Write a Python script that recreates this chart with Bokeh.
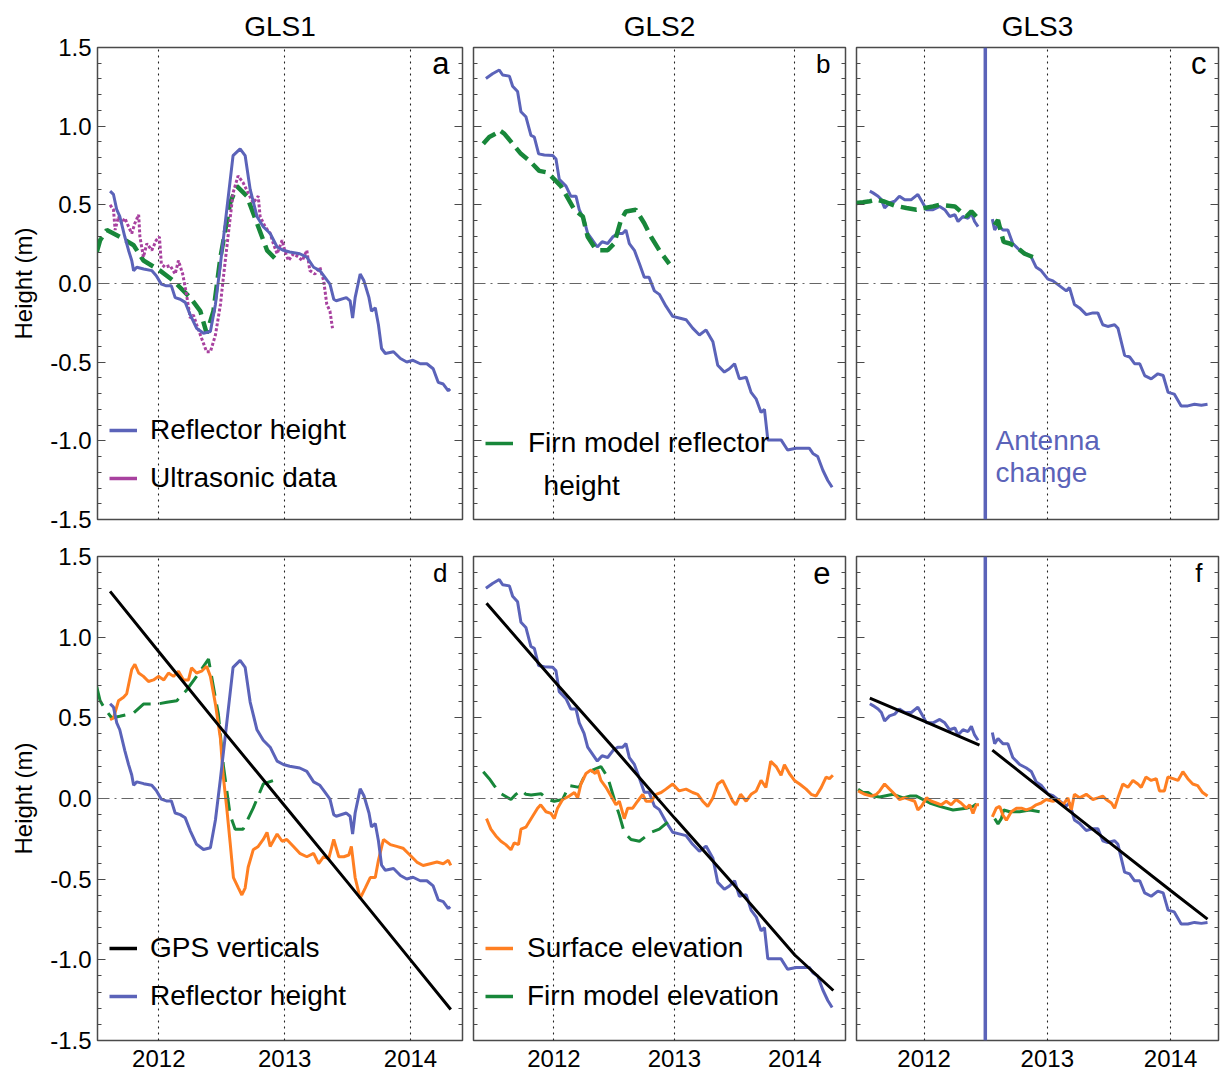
import math
from bokeh.plotting import figure
from bokeh.models import (Range1d, LinearAxis, SingleIntervalTicker, FixedTicker, Span, Label,
                          Legend, LegendItem, PrintfTickFormatter)
from bokeh.layouts import row, column
from bokeh.embed import file_html
from bokeh.resources import INLINE

NaN = float("nan")
FONT = "Liberation Sans"
BLUE = "#5b63b9"
MAGENTA = "#a8419f"
GREEN = "#18873a"
ORANGE = "#ff7f22"
BLACK = "#000000"

STATIONS = ["GLS1", "GLS2", "GLS3"]
PANEL_LETTERS = [["a", "b", "c"], ["d", "e", "f"]]
YEAR_TICKS = [2012, 2013, 2014]
ANTENNA_CHANGE = 2012.497

# ---------------- GLS1 ----------------
REFL_GLS1 = [(2011.613, 0.587), (2011.64, 0.566), (2011.666, 0.469), (2011.69, 0.426), (2011.73, 0.297),
             (2011.76, 0.21), (2011.785, 0.146), (2011.80, 0.082), (2011.825, 0.103), (2011.88, 0.092),
             (2011.944, 0.082), (2011.98, 0.049), (2012.02, -0.004), (2012.06, -0.015), (2012.10, -0.015),
             (2012.13, -0.09), (2012.17, -0.10), (2012.21, -0.12), (2012.25, -0.20), (2012.30, -0.284),
             (2012.355, -0.316), (2012.41, -0.305), (2012.45, -0.133), (2012.49, 0.125), (2012.54, 0.469),
             (2012.59, 0.813), (2012.646, 0.856), (2012.686, 0.813), (2012.726, 0.598), (2012.78, 0.426),
             (2012.83, 0.361), (2012.885, 0.318), (2012.94, 0.232), (2012.99, 0.211), (2013.04, 0.20),
             (2013.12, 0.189), (2013.176, 0.168), (2013.23, 0.103), (2013.28, 0.082), (2013.32, 0.039),
             (2013.36, -0.004), (2013.39, -0.10), (2013.41, -0.11), (2013.49, -0.09), (2013.52, -0.11),
             (2013.54, -0.22), (2013.56, -0.09), (2013.60, 0.06), (2013.63, 0.017), (2013.67, -0.09),
             (2013.69, -0.176), (2013.72, -0.155), (2013.745, -0.262), (2013.77, -0.413), (2013.80, -0.445),
             (2013.865, -0.434), (2013.92, -0.477), (2013.97, -0.499), (2014.02, -0.488), (2014.077, -0.51),
             (2014.13, -0.51), (2014.18, -0.542), (2014.22, -0.628), (2014.26, -0.639), (2014.30, -0.682),
             (2014.315, -0.67)]
ULTRA_GLS1 = [(2011.613, 0.50), (2011.64, 0.469), (2011.653, 0.34), (2011.68, 0.426), (2011.706, 0.383),
              (2011.73, 0.415), (2011.76, 0.361), (2011.785, 0.318), (2011.81, 0.383), (2011.84, 0.437),
              (2011.85, 0.297), (2011.878, 0.168), (2011.905, 0.254), (2011.944, 0.211), (2011.98, 0.275),
              (2012.005, 0.297), (2012.02, 0.125), (2012.05, 0.103), (2012.09, 0.114), (2012.13, 0.06),
              (2012.156, 0.146), (2012.19, 0.06), (2012.22, -0.069), (2012.25, -0.22), (2012.275, -0.20),
              (2012.30, -0.26), (2012.34, -0.348), (2012.38, -0.434), (2012.41, -0.434), (2012.45, -0.327),
              (2012.49, -0.133), (2012.51, 0.017), (2012.55, 0.297), (2012.59, 0.576), (2012.63, 0.684),
              (2012.67, 0.641), (2012.71, 0.576), (2012.75, 0.512), (2012.79, 0.555), (2012.805, 0.426),
              (2012.845, 0.361), (2012.885, 0.318), (2012.91, 0.254), (2012.94, 0.189), (2012.98, 0.275),
              (2013.00, 0.211), (2013.03, 0.146), (2013.07, 0.189), (2013.11, 0.168), (2013.14, 0.146),
              (2013.176, 0.211), (2013.20, 0.082), (2013.24, 0.06), (2013.28, 0.103), (2013.31, 0.017),
              (2013.335, -0.133), (2013.36, -0.176), (2013.38, -0.284)]
FIRN_REFL_GLS1 = [(2011.507, 0.20), (2011.534, 0.275), (2011.587, 0.34), (2011.64, 0.318), (2011.69, 0.297),
                  (2011.80, 0.243), (2011.878, 0.146), (2012.01, 0.082), (2012.117, 0.017), (2012.25, -0.09),
                  (2012.33, -0.176), (2012.38, -0.316), (2012.434, -0.176), (2012.49, 0.168), (2012.567, 0.512),
                  (2012.62, 0.619), (2012.70, 0.555), (2012.78, 0.383), (2012.86, 0.211), (2012.94, 0.146),
                  (2012.964, 0.135)]
GPS_GLS1 = [(2011.613, 1.284), (2012.0, 0.91), (2012.5, 0.43), (2013.0, -0.045), (2013.5, -0.52),
            (2014.0, -1.0), (2014.32, -1.308)]
SURF_GLS1 = [(2011.613, 0.488), (2011.64, 0.499), (2011.68, 0.606), (2011.72, 0.628), (2011.745, 0.649),
             (2011.785, 0.80), (2011.81, 0.832), (2011.84, 0.778), (2011.878, 0.757), (2011.918, 0.725),
             (2011.958, 0.735), (2011.997, 0.757), (2012.04, 0.735), (2012.077, 0.778), (2012.117, 0.757),
             (2012.156, 0.789), (2012.196, 0.735), (2012.236, 0.735), (2012.26, 0.81), (2012.30, 0.778),
             (2012.34, 0.789), (2012.38, 0.82), (2012.41, 0.757), (2012.45, 0.585), (2012.49, 0.37),
             (2012.51, 0.155), (2012.54, -0.06), (2012.567, -0.275), (2012.593, -0.49), (2012.633, -0.555),
             (2012.66, -0.598), (2012.686, -0.555), (2012.71, -0.426), (2012.75, -0.318), (2012.79, -0.297),
             (2012.83, -0.254), (2012.86, -0.21), (2012.885, -0.297), (2012.94, -0.22), (2012.98, -0.265),
             (2013.017, -0.254), (2013.07, -0.297), (2013.12, -0.34), (2013.176, -0.361), (2013.23, -0.34),
             (2013.27, -0.404), (2013.31, -0.361), (2013.35, -0.372), (2013.39, -0.254), (2013.43, -0.361),
             (2013.47, -0.361), (2013.51, -0.35), (2013.53, -0.297), (2013.56, -0.49), (2013.60, -0.619),
             (2013.64, -0.555), (2013.68, -0.49), (2013.72, -0.49), (2013.745, -0.383), (2013.785, -0.254),
             (2013.84, -0.286), (2013.89, -0.297), (2013.94, -0.308), (2013.995, -0.35), (2014.05, -0.394),
             (2014.10, -0.415), (2014.157, -0.404), (2014.21, -0.394), (2014.26, -0.404), (2014.30, -0.383),
             (2014.32, -0.415)]
FIRN_ELEV_GLS1 = [(2011.507, 0.692), (2011.534, 0.606), (2011.574, 0.553), (2011.627, 0.499), (2011.69, 0.51),
                  (2011.80, 0.53), (2011.878, 0.585), (2011.984, 0.585), (2012.064, 0.596), (2012.143, 0.606),
                  (2012.22, 0.671), (2012.30, 0.757), (2012.395, 0.864), (2012.434, 0.692), (2012.474, 0.52),
                  (2012.514, 0.198), (2012.567, -0.103), (2012.607, -0.19), (2012.67, -0.19), (2012.75, -0.06),
                  (2012.83, 0.09), (2012.91, 0.112)]

# ---------------- GLS2 ----------------
REFL_GLS2 = [(2011.435, 1.303), (2011.49, 1.333), (2011.546, 1.357), (2011.574, 1.325), (2011.63, 1.318),
             (2011.657, 1.254), (2011.698, 1.22), (2011.726, 1.092), (2011.767, 1.06), (2011.809, 0.942),
             (2011.837, 0.931), (2011.873, 0.824), (2011.92, 0.817), (2011.99, 0.813), (2012.017, 0.791),
             (2012.044, 0.662), (2012.10, 0.619), (2012.14, 0.555), (2012.183, 0.555), (2012.21, 0.469),
             (2012.25, 0.404), (2012.28, 0.318), (2012.32, 0.275), (2012.36, 0.232), (2012.40, 0.265),
             (2012.446, 0.254), (2012.49, 0.297), (2012.53, 0.318), (2012.57, 0.318), (2012.598, 0.34),
             (2012.626, 0.254), (2012.668, 0.211), (2012.71, 0.125), (2012.75, 0.039), (2012.79, 0.039),
             (2012.834, -0.047), (2012.875, -0.069), (2012.93, -0.144), (2012.986, -0.209), (2013.04, -0.219),
             (2013.097, -0.23), (2013.152, -0.284), (2013.208, -0.327), (2013.263, -0.295), (2013.32, -0.37),
             (2013.36, -0.52), (2013.415, -0.563), (2013.457, -0.542), (2013.50, -0.51), (2013.54, -0.606),
             (2013.596, -0.596), (2013.637, -0.692), (2013.68, -0.735), (2013.72, -0.82), (2013.748, -0.80),
             (2013.776, -0.994), (2013.83, -0.994), (2013.886, -0.994), (2013.94, -1.058), (2014.01, -1.047),
             (2014.066, -1.047), (2014.12, -1.047), (2014.15, -1.08), (2014.19, -1.10), (2014.233, -1.187),
             (2014.274, -1.252), (2014.31, -1.295)]
FIRN_REFL_GLS2 = [(2011.413, 0.888), (2011.463, 0.931), (2011.518, 0.953), (2011.546, 0.974), (2011.587, 0.953),
                  (2011.657, 0.888), (2011.726, 0.824), (2011.795, 0.781), (2011.878, 0.716), (2011.947, 0.705),
                  (2012.003, 0.662), (2012.058, 0.619), (2012.114, 0.544), (2012.17, 0.469), (2012.24, 0.426),
                  (2012.28, 0.297), (2012.335, 0.232), (2012.377, 0.211), (2012.446, 0.211), (2012.50, 0.254),
                  (2012.557, 0.404), (2012.598, 0.458), (2012.68, 0.469), (2012.75, 0.383), (2012.806, 0.297),
                  (2012.875, 0.211), (2012.958, 0.125)]
GPS_GLS2 = [(2011.44, 1.21), (2012.0, 0.73), (2012.5, 0.31), (2013.0, -0.12), (2013.5, -0.54),
            (2014.0, -0.97), (2014.32, -1.19)]
SURF_GLS2 = [(2011.44, -0.125), (2011.476, -0.19), (2011.518, -0.232), (2011.56, -0.265), (2011.60, -0.286),
             (2011.643, -0.318), (2011.67, -0.275), (2011.706, -0.286), (2011.726, -0.19), (2011.767, -0.178),
             (2011.81, -0.125), (2011.864, -0.06), (2011.89, -0.039), (2011.934, -0.082), (2011.975, -0.092),
             (2012.003, -0.125), (2012.03, -0.06), (2012.072, -0.006), (2012.127, 0.015), (2012.17, 0.037),
             (2012.197, 0.004), (2012.224, 0.09), (2012.266, 0.155), (2012.307, 0.176), (2012.343, 0.155),
             (2012.363, 0.176), (2012.39, 0.112), (2012.432, 0.069), (2012.474, 0.015), (2012.515, -0.039),
             (2012.543, -0.017), (2012.584, -0.125), (2012.612, -0.06), (2012.654, -0.06), (2012.695, -0.017),
             (2012.737, 0.026), (2012.765, -0.017), (2012.806, -0.017), (2012.848, 0.026), (2012.89, 0.037),
             (2012.93, 0.058), (2012.986, 0.09), (2013.04, 0.047), (2013.097, 0.058), (2013.152, 0.037),
             (2013.194, 0.026), (2013.235, -0.017), (2013.277, -0.049), (2013.32, 0.004), (2013.36, 0.09),
             (2013.40, 0.112), (2013.443, 0.047), (2013.485, -0.017), (2013.51, -0.039), (2013.55, 0.026),
             (2013.596, -0.017), (2013.637, 0.026), (2013.68, 0.047), (2013.72, 0.112), (2013.76, 0.069),
             (2013.80, 0.23), (2013.845, 0.198), (2013.886, 0.144), (2013.914, 0.209), (2013.955, 0.155),
             (2013.997, 0.112), (2014.04, 0.09), (2014.094, 0.058), (2014.136, 0.026), (2014.177, 0.015),
             (2014.22, 0.069), (2014.26, 0.133), (2014.288, 0.123), (2014.316, 0.144)]
FIRN_ELEV_GLS2 = [(2011.413, 0.166), (2011.463, 0.123), (2011.504, 0.08), (2011.546, 0.037), (2011.643, -0.006),
                  (2011.684, 0.026), (2011.726, 0.052), (2011.767, 0.026), (2011.81, 0.022), (2011.892, 0.03),
                  (2011.947, -0.006), (2012.003, -0.017), (2012.072, -0.006), (2012.127, 0.08), (2012.21, 0.069),
                  (2012.25, 0.133), (2012.32, 0.176), (2012.39, 0.198), (2012.446, 0.133), (2012.515, -0.039),
                  (2012.543, -0.103), (2012.584, -0.21), (2012.64, -0.254), (2012.71, -0.265), (2012.806, -0.21),
                  (2012.875, -0.19), (2012.945, -0.146)]

# ---------------- GLS3 (gap at the antenna change) ----------------
REFL_GLS3 = [(2011.56, 0.587), (2011.586, 0.576), (2011.627, 0.555), (2011.654, 0.533), (2011.68, 0.48),
             (2011.72, 0.512), (2011.762, 0.523), (2011.80, 0.555), (2011.843, 0.533), (2011.897, 0.533),
             (2011.95, 0.566), (2011.99, 0.512), (2012.02, 0.469), (2012.073, 0.469), (2012.127, 0.49),
             (2012.168, 0.469), (2012.208, 0.426), (2012.25, 0.437), (2012.276, 0.394), (2012.316, 0.426),
             (2012.357, 0.415), (2012.384, 0.447), (2012.41, 0.394), (2012.438, 0.361), (NaN, NaN),
             (2012.554, 0.409), (2012.573, 0.34), (2012.60, 0.372), (2012.64, 0.34), (2012.68, 0.34),
             (2012.72, 0.254), (2012.776, 0.211), (2012.83, 0.189), (2012.87, 0.168), (2012.91, 0.103),
             (2012.95, 0.082), (2013.005, 0.028), (2013.046, 0.017), (2013.10, -0.015), (2013.154, -0.047),
             (2013.18, -0.026), (2013.22, -0.133), (2013.262, -0.155), (2013.316, -0.198), (2013.37, -0.187),
             (2013.41, -0.187), (2013.45, -0.262), (2013.49, -0.273), (2013.546, -0.262), (2013.573, -0.284),
             (2013.627, -0.456), (2013.668, -0.467), (2013.708, -0.51), (2013.75, -0.51), (2013.79, -0.585),
             (2013.843, -0.606), (2013.897, -0.574), (2013.94, -0.585), (2013.98, -0.692), (2014.03, -0.703),
             (2014.086, -0.778), (2014.14, -0.778), (2014.194, -0.768), (2014.25, -0.774), (2014.30, -0.768)]
FIRN_REFL_GLS3 = [(2011.45, 0.512), (2011.505, 0.516), (2011.56, 0.523), (2011.614, 0.533), (2011.668, 0.523),
                  (2011.762, 0.495), (2011.857, 0.48), (2011.938, 0.469), (2012.073, 0.49), (2012.127, 0.501),
                  (2012.25, 0.49), (2012.343, 0.426), (2012.384, 0.458), (2012.424, 0.426), (NaN, NaN),
                  (2012.573, 0.372), (2012.60, 0.404), (2012.627, 0.318), (2012.646, 0.265), (2012.695, 0.254),
                  (2012.75, 0.232), (2012.816, 0.189), (2012.884, 0.168), (2012.938, 0.172)]
GPS_GLS3 = [(2011.56, 0.622), (2012.0, 0.48), (2012.45, 0.331), (NaN, NaN),
            (2012.554, 0.30), (2013.0, 0.03), (2013.5, -0.27), (2014.0, -0.57), (2014.30, -0.748)]
SURF_GLS3 = [(2011.465, 0.047), (2011.52, 0.026), (2011.573, 0.015), (2011.614, 0.026), (2011.64, 0.047),
             (2011.68, 0.09), (2011.72, 0.058), (2011.762, 0.026), (2011.80, -0.006), (2011.843, 0.004),
             (2011.884, -0.006), (2011.924, -0.017), (2011.95, -0.071), (2011.978, -0.049), (2012.02, 0.004),
             (2012.06, -0.017), (2012.10, -0.028), (2012.14, -0.039), (2012.18, -0.017), (2012.22, -0.039),
             (2012.26, -0.006), (2012.30, -0.028), (2012.343, -0.06), (2012.37, -0.039), (2012.397, -0.092),
             (2012.424, -0.039), (2012.446, -0.039), (NaN, NaN),
             (2012.554, -0.114), (2012.586, -0.06), (2012.614, -0.049), (2012.64, -0.103), (2012.668, -0.135),
             (2012.708, -0.082), (2012.75, -0.06), (2012.79, -0.06), (2012.83, -0.071), (2012.87, -0.06),
             (2012.91, -0.039), (2012.95, -0.028), (2012.99, -0.006), (2013.046, -0.017), (2013.086, -0.006),
             (2013.127, -0.039), (2013.167, 0.004), (2013.195, -0.071), (2013.22, 0.026), (2013.262, 0.004),
             (2013.316, 0.026), (2013.37, -0.006), (2013.41, 0.004), (2013.45, 0.015), (2013.478, -0.006),
             (2013.52, -0.028), (2013.546, -0.06), (2013.573, 0.004), (2013.613, 0.09), (2013.654, 0.069),
             (2013.695, 0.112), (2013.735, 0.09), (2013.762, 0.069), (2013.80, 0.133), (2013.843, 0.112),
             (2013.884, 0.123), (2013.91, 0.047), (2013.95, 0.047), (2013.978, 0.133), (2014.02, 0.123),
             (2014.06, 0.112), (2014.10, 0.166), (2014.14, 0.123), (2014.18, 0.09), (2014.22, 0.08),
             (2014.26, 0.037), (2014.30, 0.015)]
FIRN_ELEV_GLS3 = [(2011.465, 0.058), (2011.505, 0.037), (2011.546, 0.037), (2011.586, 0.015), (2011.64, 0.009),
                  (2011.75, 0.026), (2011.83, 0.004), (2011.884, 0.015), (2011.938, 0.015), (2012.046, -0.028),
                  (2012.127, -0.049), (2012.235, -0.071), (2012.343, -0.06), (2012.397, -0.049), (2012.424, -0.034),
                  (NaN, NaN),
                  (2012.573, -0.125), (2012.60, -0.157), (2012.627, -0.125), (2012.646, -0.071), (2012.695, -0.082),
                  (2012.776, -0.082), (2012.857, -0.071), (2012.938, -0.082)]

# ---------------- layout geometry ----------------
X_RANGES = [(2011.513, 2014.413), (2011.332, 2014.421), (2011.452, 2014.389)]
FRAME_W = [365, 372, 362]
BORDER_L = [97, 6, 6]
BORDER_R = [5, 5, 2]
FRAME_H = [472, 484]
BORDER_T = [47, 19]
BORDER_B = [18, 35]
LETTER_SIZE = {"a": "31px", "c": "31px", "e": "31px", "b": "26px", "d": "26px", "f": "26px"}
LETTER_INSET = {"a": 13, "b": 15, "c": 12, "d": 15, "e": 15, "f": 16}


def xy(pairs):
    return [p[0] for p in pairs], [p[1] for p in pairs]


def make_panel(r, c):
    top = r == 0
    p = figure(frame_width=FRAME_W[c], frame_height=FRAME_H[r],
               x_range=Range1d(*X_RANGES[c]), y_range=Range1d(-1.5, 1.5),
               output_backend="svg", toolbar_location=None,
               min_border_left=BORDER_L[c], min_border_right=BORDER_R[c],
               min_border_top=BORDER_T[r], min_border_bottom=BORDER_B[r],
               title=STATIONS[c] if top else None)
    p.background_fill_color = "white"
    p.border_fill_color = "white"
    p.outline_line_color = "#4a4a4a"
    p.outline_line_width = 1.5
    if top:
        p.title.align = "center"
        p.title.text_font = FONT
        p.title.text_font_size = "28px"
        p.title.text_font_style = "normal"
        p.title.text_color = "black"
        p.title.standoff = 11

    yticker = SingleIntervalTicker(interval=0.5, num_minor_ticks=5)
    xticker = FixedTicker(ticks=YEAR_TICKS, minor_ticks=[])

    ya = p.yaxis[0]
    ya.ticker = yticker
    ya.formatter = PrintfTickFormatter(format="%.1f")
    ya.axis_line_color = None
    ya.major_tick_in = 8
    ya.major_tick_out = 0
    ya.minor_tick_in = 4
    ya.minor_tick_out = 0
    ya.major_tick_line_color = "#4a4a4a"
    ya.minor_tick_line_color = "#4a4a4a"
    ya.major_tick_line_width = 1.2
    ya.minor_tick_line_width = 1.2
    if c == 0:
        ya.major_label_text_font = FONT
        ya.major_label_text_font_size = "24px"
        ya.major_label_text_color = "black"
        ya.major_label_standoff = 6
        ya.axis_label = "Height (m)"
        ya.axis_label_text_font = FONT
        ya.axis_label_text_font_size = "24px"
        ya.axis_label_text_font_style = "normal"
        ya.axis_label_text_color = "black"
        ya.axis_label_standoff = 10
    else:
        ya.major_label_text_font_size = "0px"
        ya.major_label_standoff = 0

    yr = LinearAxis(ticker=yticker, axis_line_color=None,
                    major_tick_in=8, major_tick_out=0, minor_tick_in=4, minor_tick_out=0,
                    major_tick_line_color="#4a4a4a", minor_tick_line_color="#4a4a4a",
                    major_tick_line_width=1.2, minor_tick_line_width=1.2,
                    major_label_text_font_size="0px", major_label_standoff=0)
    p.add_layout(yr, "right")

    xa = p.xaxis[0]
    xa.ticker = xticker
    xa.axis_line_color = None
    xa.major_tick_in = 0
    xa.major_tick_out = 0
    xa.minor_tick_line_color = None
    if top:
        xa.major_label_text_font_size = "0px"
        xa.major_label_standoff = 0
    else:
        xa.major_label_text_font = FONT
        xa.major_label_text_font_size = "24px"
        xa.major_label_text_color = "black"
        xa.major_label_standoff = 9

    p.xgrid.ticker = xticker
    p.xgrid.grid_line_color = "#222222"
    p.xgrid.grid_line_dash = "2 4"
    p.xgrid.grid_line_width = 1.1
    p.ygrid.visible = False

    p.add_layout(Span(location=0, dimension="width", line_color="#666666",
                      line_width=1.2, line_dash="12 5 2 5"))

    letter = PANEL_LETTERS[r][c]
    p.add_layout(Label(x=FRAME_W[c] - LETTER_INSET[letter], y=FRAME_H[r] - 16,
                       x_units="screen", y_units="screen", text=letter,
                       text_align="right", text_baseline="alphabetic",
                       text_font=FONT, text_font_size=LETTER_SIZE[letter], text_color="black"))
    return p


def add_legend(p, items, loc, standoff, spacing):
    leg = Legend(items=items, location=loc, orientation="vertical",
                 label_text_font=FONT, label_text_font_size="28px", label_text_color="black",
                 glyph_width=28, glyph_height=20, label_height=20, label_standoff=standoff,
                 spacing=spacing, padding=0, margin=0,
                 border_line_color=None, background_fill_alpha=0)
    p.add_layout(leg)


def proxy(p, color, width=3.5, alpha=1.0):
    # legend-only line sample (holds no data point)
    return p.line(x=[NaN], y=[NaN], line_color=color, line_width=width, line_alpha=alpha)


panels = [[make_panel(r, c) for c in range(3)] for r in range(2)]
pa, pb, pc = panels[0]
pd, pe, pf = panels[1]

# ---- a ----
x, y = xy(FIRN_REFL_GLS1)
pa.line(x, y, line_color=GREEN, line_width=4.5, line_dash="16 7")
x, y = xy(ULTRA_GLS1)
pa.line(x, y, line_color=MAGENTA, line_width=3, line_dash="3 2")
x, y = xy(REFL_GLS1)
ra_blue = pa.line(x, y, line_color=BLUE, line_width=3)
add_legend(pa, [LegendItem(label="Reflector height", renderers=[proxy(pa, BLUE)]),
                LegendItem(label="Ultrasonic data", renderers=[proxy(pa, MAGENTA)])],
           (12, 25), 13, 16)

# ---- b ----
x, y = xy(REFL_GLS2)
pb.line(x, y, line_color=BLUE, line_width=3)
x, y = xy(FIRN_REFL_GLS2)
pb.line(x, y, line_color=GREEN, line_width=4.5, line_dash="16 7")
add_legend(pb, [LegendItem(label="Firn model reflector", renderers=[proxy(pb, GREEN)]),
                LegendItem(label="\u00a0\u00a0height", renderers=[proxy(pb, GREEN, alpha=0)])],
           (12, 17), 15, 11)

# ---- c ----
pc.add_layout(Span(location=ANTENNA_CHANGE, dimension="height", line_color=BLUE, line_width=3.5))
x, y = xy(REFL_GLS3)
pc.line(x, y, line_color=BLUE, line_width=3)
x, y = xy(FIRN_REFL_GLS3)
pc.line(x, y, line_color=GREEN, line_width=4.5, line_dash="16 7")
pc.add_layout(Label(x=2012.58, y=-0.996, text="Antenna", text_baseline="alphabetic",
                    text_font=FONT, text_font_size="28px", text_color=BLUE))
pc.add_layout(Label(x=2012.58, y=-1.199, text="change", text_baseline="alphabetic",
                    text_font=FONT, text_font_size="28px", text_color=BLUE))

# ---- d ----
x, y = xy(FIRN_ELEV_GLS1)
pd.line(x, y, line_color=GREEN, line_width=3, line_dash="20 9")
x, y = xy(SURF_GLS1)
pd.line(x, y, line_color=ORANGE, line_width=3)
x, y = xy(REFL_GLS1)
pd.line(x, y, line_color=BLUE, line_width=3)
x, y = xy(GPS_GLS1)
pd.line(x, y, line_color=BLACK, line_width=3)
add_legend(pd, [LegendItem(label="GPS verticals", renderers=[proxy(pd, BLACK)]),
                LegendItem(label="Reflector height", renderers=[proxy(pd, BLUE)])],
           (12, 28), 13, 16)

# ---- e ----
x, y = xy(REFL_GLS2)
pe.line(x, y, line_color=BLUE, line_width=3)
x, y = xy(FIRN_ELEV_GLS2)
pe.line(x, y, line_color=GREEN, line_width=3, line_dash="20 9")
x, y = xy(SURF_GLS2)
pe.line(x, y, line_color=ORANGE, line_width=3)
x, y = xy(GPS_GLS2)
pe.line(x, y, line_color=BLACK, line_width=3)
add_legend(pe, [LegendItem(label="Surface elevation", renderers=[proxy(pe, ORANGE)]),
                LegendItem(label="Firn model elevation", renderers=[proxy(pe, GREEN)])],
           (12, 28), 14, 16)

# ---- f ----
pf.add_layout(Span(location=ANTENNA_CHANGE, dimension="height", line_color=BLUE, line_width=3.5))
x, y = xy(REFL_GLS3)
pf.line(x, y, line_color=BLUE, line_width=3)
x, y = xy(FIRN_ELEV_GLS3)
pf.line(x, y, line_color=GREEN, line_width=3)
x, y = xy(SURF_GLS3)
pf.line(x, y, line_color=ORANGE, line_width=3)
x, y = xy(GPS_GLS3)
pf.line(x, y, line_color=BLACK, line_width=3)

layout = column(row(pa, pb, pc), row(pd, pe, pf))
open("out.html", "w").write(file_html(layout, INLINE))
